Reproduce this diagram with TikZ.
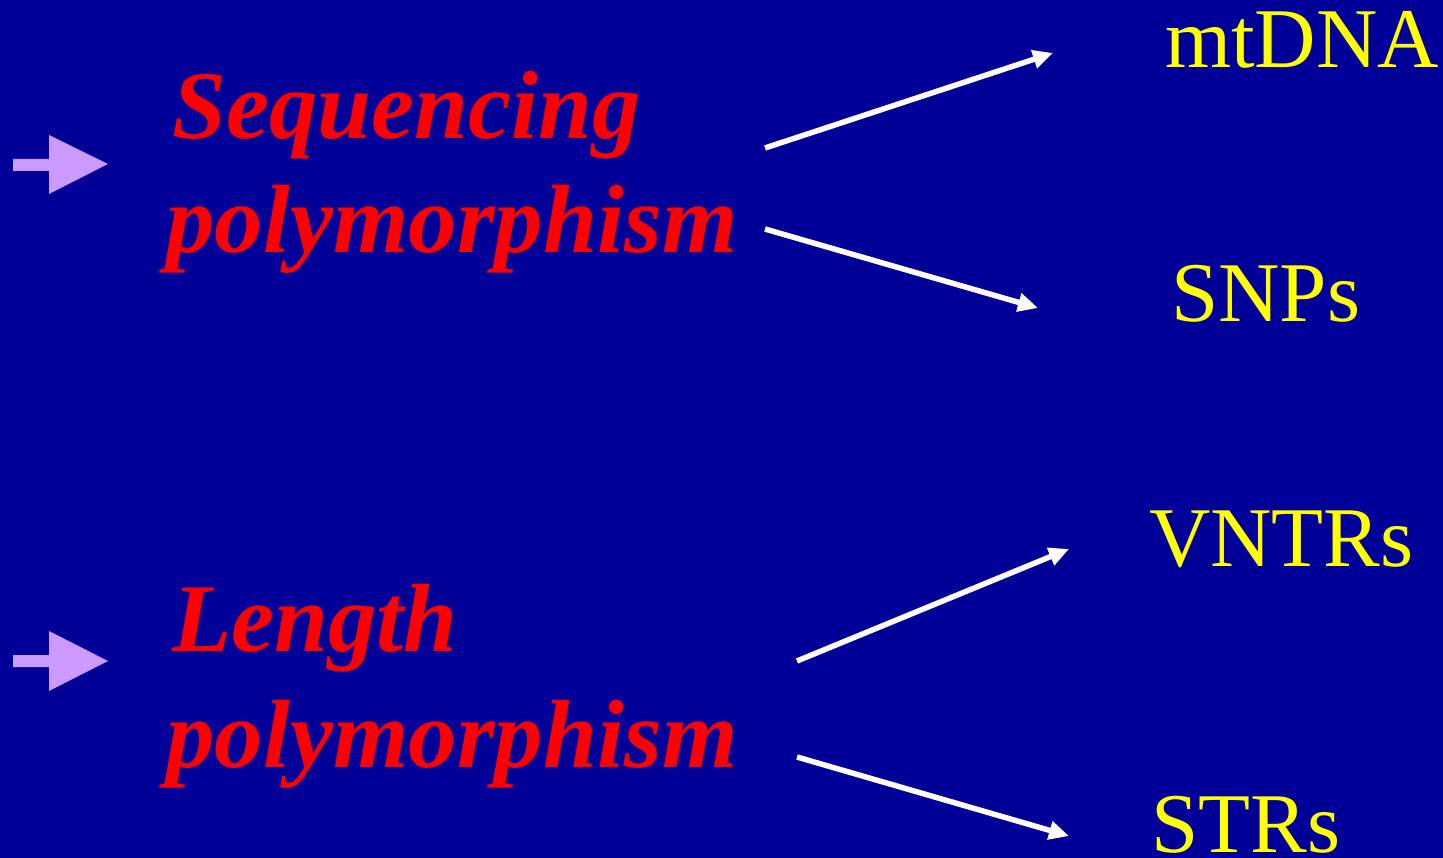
\documentclass[tikz,border=0pt]{standalone}
\usepackage{fontspec}
\setmainfont{Liberation Serif}
\usetikzlibrary{arrows.meta}
\definecolor{bg}{HTML}{000099}
\definecolor{redtxt}{HTML}{FF0000}
\definecolor{yel}{HTML}{FFFF00}
\definecolor{lilac}{HTML}{CC99FF}
\tikzset{
  maintext/.style={anchor=base west,inner sep=0pt,text=redtxt,font=\fontsize{97}{114}\selectfont\bfseries\itshape},
  leaf/.style={anchor=base west,inner sep=0pt,text=yel,font=\fontsize{85}{100}\selectfont},
  conn/.style={draw=white,line width=5.5pt,-{Triangle[length=20pt,width=18pt]}},
  bullet/.style={fill=lilac}
}
\begin{document}
\begin{tikzpicture}[x=1pt,y=-1pt]
\fill[bg] (0,0) rectangle (1443,858);
\useasboundingbox (0,0) rectangle (1443,858);
% bullets
\fill[bullet] (13,159) -- (49,159) -- (49,135) -- (108,164) -- (49,194) -- (49,171) -- (13,171) -- cycle;
\fill[bullet] (13,655) -- (49,655) -- (49,631) -- (108,661) -- (49,691) -- (49,667) -- (13,667) -- cycle;
% main texts
\node[maintext] (seqA) at (172,139) {Sequencing};
\node[maintext] (seqB) at (166,253) {polymorphism};
\node[maintext] (lenA) at (172,651) {Length};
\node[maintext] (lenB) at (166,767) {polymorphism};
% leaves
\node[leaf] (mt) at (1165,68) {mtDNA};
\node[leaf] (snp) at (1171,322) {SNPs};
\node[leaf] (vntr) at (1149,566) {VNTRs};
\node[leaf] (str) at (1151,852) {STRs};
% connector ends
\coordinate (s1) at (765,148);
\coordinate (e1) at (1053,53);
\coordinate (s2) at (765,229);
\coordinate (e2) at (1038,308);
\coordinate (s3) at (797,661);
\coordinate (e3) at (1069,549);
\coordinate (s4) at (797,757);
\coordinate (e4) at (1069,836);
\draw[conn] (s1) -- (e1);
\draw[conn] (s2) -- (e2);
\draw[conn] (s3) -- (e3);
\draw[conn] (s4) -- (e4);
\end{tikzpicture}
\end{document}
